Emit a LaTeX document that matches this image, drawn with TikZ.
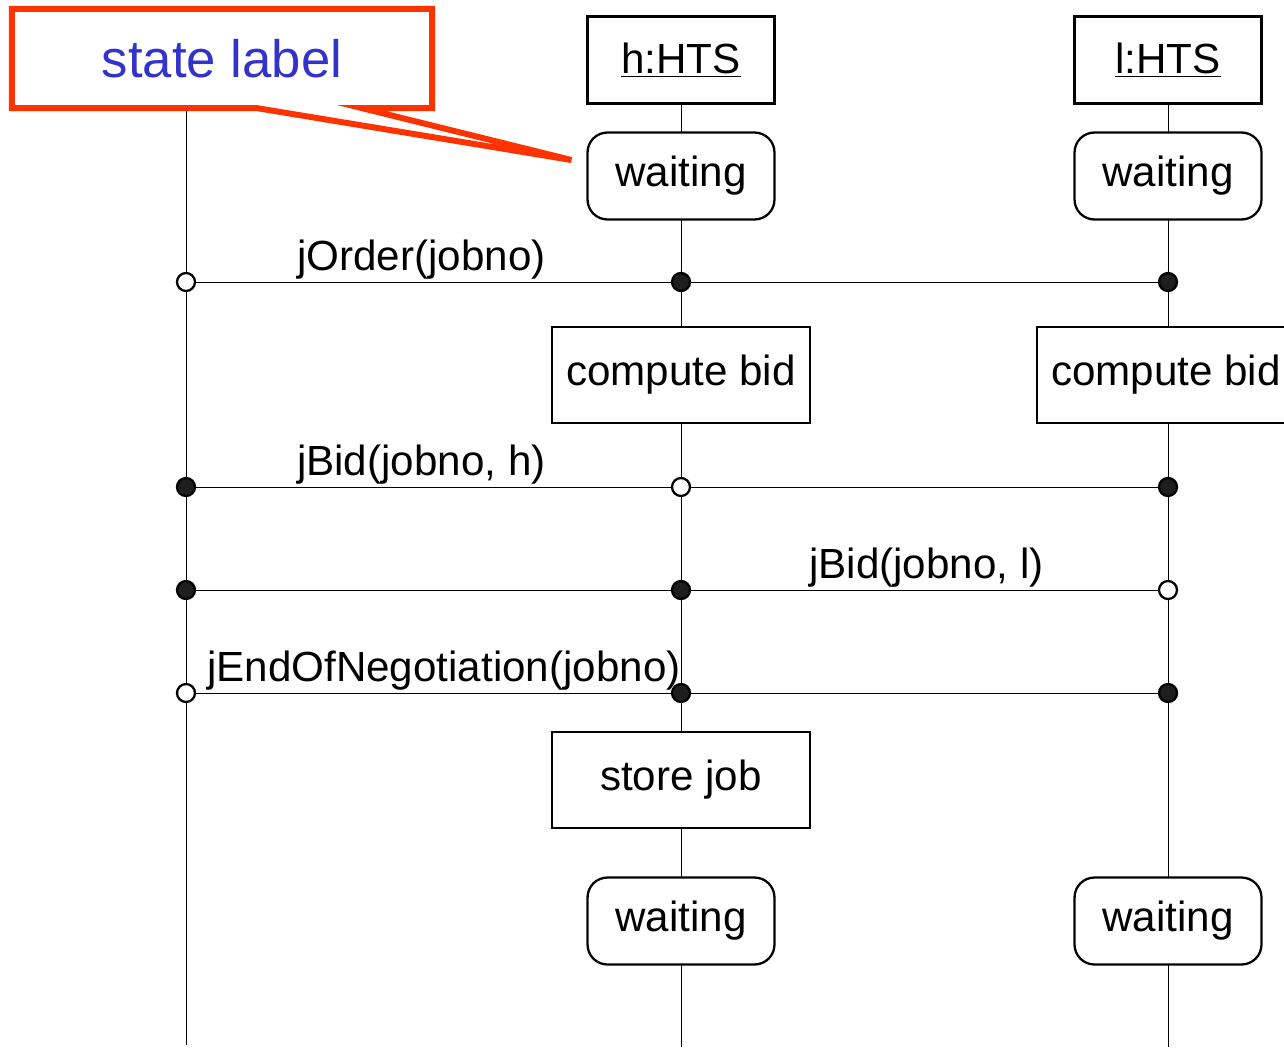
\documentclass[tikz,border=0pt]{standalone}
\usepackage{fontspec}
\setmainfont{Liberation Sans}
\usetikzlibrary{positioning, calc, backgrounds}
\definecolor{notered}{RGB}{255, 51, 0}
\definecolor{noteblue}{RGB}{51, 51, 204}
\definecolor{dotgrey}{RGB}{30, 30, 30}

\begin{document}
\begin{tikzpicture}[
  x=0.02cm, y=-0.02cm,
  line width=1.3pt,
  font=\fontsize{24}{28}\selectfont,
  object/.style={
    draw=black,
    fill=white,
    minimum width=3.74cm,
    minimum height=1.74cm,
    inner sep=0pt,
  },
  state/.style={
    draw=black,
    fill=white,
    rounded corners=0.4cm,
    minimum width=3.74cm,
    minimum height=1.74cm,
    inner sep=0pt,
  },
  activity/.style={
    draw=black,
    fill=white,
    minimum width=5.16cm,
    minimum height=1.92cm,
    inner sep=0pt,
  },
  sendpt/.style={circle, draw=black, fill=white, minimum size=0.36cm, inner sep=0pt},
  recvpt/.style={circle, draw=black, fill=dotgrey, minimum size=0.36cm, inner sep=0pt},
  msglabel/.style={anchor=base west, inner sep=0pt},
  note/.style={
    minimum width=8.36cm,
    minimum height=1.94cm,
    inner sep=0pt,
    text=noteblue,
    font=\fontsize{30}{34}\selectfont,
  }
]
  \useasboundingbox (0,0) rectangle (1284,1048);

  % === callout ===
  \node[note] (note) at (222,58.5) {state label};

  % === lifeline heads ===
  \node[object] (h) at (681,60) {\underline{h:HTS}};
  \node[object] (l) at (1168,60) {\underline{l:HTS}};

  % waiting states (top)
  \node[state] (hw1) at (681,176) {waiting};
  \node[state] (lw1) at (1168,176) {waiting};

  % jOrder
  \node[sendpt] (s1) at (186,282) {};
  \node[recvpt] (h1) at (681,282) {};
  \node[recvpt] (l1) at (1168,282) {};

  % compute bid
  \node[activity] (hcb) at (681,375) {compute bid};
  \node[activity] (lcb) at (1166,375) {compute bid};

  % jBid h
  \node[recvpt] (s2) at (186,487) {};
  \node[sendpt] (h2) at (681,487) {};
  \node[recvpt] (l2) at (1168,487) {};

  % jBid l
  \node[recvpt] (s3) at (186,590) {};
  \node[recvpt] (h3) at (681,590) {};
  \node[sendpt] (l3) at (1168,590) {};

  % jEndOfNegotiation
  \node[sendpt] (s4) at (186,693) {};
  \node[recvpt] (h4) at (681,693) {};
  \node[recvpt] (l4) at (1168,693) {};

  % store job
  \node[activity] (hsj) at (681,780) {store job};

  % waiting states (bottom)
  \node[state] (hw2) at (681,921) {waiting};
  \node[state] (lw2) at (1168,921) {waiting};

  \coordinate (send) at (186,1045);
  \coordinate (hend) at (681,1047);
  \coordinate (lend) at (1168,1047);

  % lifelines and messages
  \begin{scope}[on background layer]
    \draw (note.south -| s1) -- (send);
    \draw (h) -- (hend);
    \draw (l) -- (lend);
    \draw (s1) -- (h1) -- (l1);
    \draw (s2) -- (h2) -- (l2);
    \draw (s3) -- (h3) -- (l3);
    \draw (s4) -- (h4) -- (l4);
  \end{scope}

  % message labels
  \node[msglabel] at ([shift={(110,-12)}]s1.center) {jOrder(jobno)};
  \node[msglabel] at ([shift={(110,-12)}]s2.center) {jBid(jobno, h)};
  \node[msglabel] at ([shift={(127,-12)}]h3.center) {jBid(jobno, l)};
  \node[msglabel] at ([shift={(20,-12)}]s4.center) {jEndOfNegotiation(jobno)};

  % callout frame with tail
  \coordinate (tip) at ([shift={(-15,-16)}]hw1.west);
  \draw[notered, line width=3.4pt, line join=miter]
    ($(note.south)+(35,0)$) -- (tip) -- ($(note.south)+(140,0)$)
    -- (note.south east) -- (note.north east) -- (note.north west)
    -- (note.south west) -- cycle;

\end{tikzpicture}
\end{document}
